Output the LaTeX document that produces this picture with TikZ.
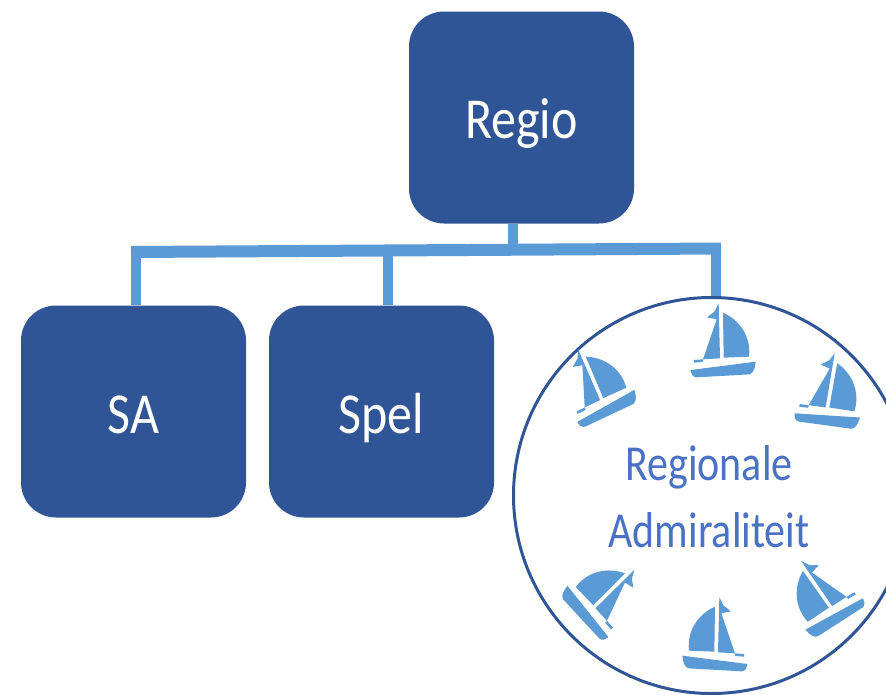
\documentclass[tikz,border=0pt]{standalone}
\usepackage{graphicx}
\usepackage{fontspec}
\setmainfont{Carlito}
\definecolor{boxblue}{HTML}{2F5597}
\definecolor{linkblue}{HTML}{5B9BD5}
\definecolor{textblue}{HTML}{4A72C4}
\newcommand{\boxlabel}[2]{\raisebox{-#1pt}[0pt][0pt]{\scalebox{1}[1.16]{#2}}}
\tikzset{
  orgbox/.style={draw=none,fill=boxblue,rounded corners=35pt,minimum width=225pt,minimum height=212pt,inner sep=0pt,text=white,font=\fontsize{50}{50}\selectfont},
  stem/.style={draw=linkblue,line width=10pt},
  bar/.style={draw=linkblue,line width=12pt},
  admiral/.style={circle,draw=boxblue,line width=3pt,fill=white,minimum size=396pt,inner sep=0pt},
  circletext/.style={text=textblue,font=\fontsize{42}{42}\selectfont,inner sep=0pt,anchor=base},
  boat/.pic={
    \begin{scope}[scale=1/3,fill=linkblue]
      \fill (0,-82) .. controls (50,-60) and (85,-10) .. (78,50) -- (2,53) -- cycle;
      \fill (-13,-110) -- (-9,55) -- (-60,58) -- (-87,60) -- (-87,68) -- (-60,66) -- (-60,58) -- (-19,-62) -- (-48,-68) -- (-25,-86) -- cycle;
      \fill (-97,90) -- (98,65) .. controls (96,85) and (92,98) .. (80,103) -- (-80,112) .. controls (-90,112) and (-96,102) .. (-97,90) -- cycle;
    \end{scope}
  }
}
\begin{document}
\begin{tikzpicture}[x=1pt,y=-1pt]
  \useasboundingbox (0,0) rectangle (886,694);
  \clip (0,0) rectangle (886,694);
  \fill[white] (0,0) rectangle (886,694);
  \node[orgbox] (regio) at (521.5,117.5) {\boxlabel{20.5}{Regio}};
  \node[orgbox] (sa) at (133.5,411.5) {\boxlabel{21.5}{SA}};
  \node[orgbox] (spel) at (381.5,411.5) {\boxlabel{21.5}{Spel}};
  \node[admiral] (adm) at (711.5,495.5) {};
  \coordinate (barL) at (131,252);
  \coordinate (dropL) at (136,252);
  \coordinate (dropM) at (388,250.5);
  \coordinate (dropC) at (513,249.5);
  \coordinate (dropR) at (715.5,248.5);
  \coordinate (barR) at (721,248.5);
  \draw[stem] (dropC) -- (dropC |- regio.south);
  \draw[stem] (dropL) -- (dropL |- sa.north);
  \draw[stem] (dropM) -- (dropM |- spel.north);
  \draw[stem] (dropR) -- (dropR |- adm.north);
  \draw[bar] (barL) -- (barR);
  \node[circletext] (t1) at (709,480) {\scalebox{1}[1.2]{Regionale}};
  \node[circletext] (t2) at (709,547) {\scalebox{1}[1.2]{Admiraliteit}};
  \pic at (723,340) {boat};
  \pic[rotate=22] at (596,382) {boat};
  \pic[rotate=-11] at (832,390) {boat};
  \pic[rotate=-44,xscale=-1] at (606,593) {boat};
  \pic[xscale=-1] at (715,634) {boat};
  \pic[rotate=36,xscale=-1] at (819,593) {boat};
\end{tikzpicture}
\end{document}
